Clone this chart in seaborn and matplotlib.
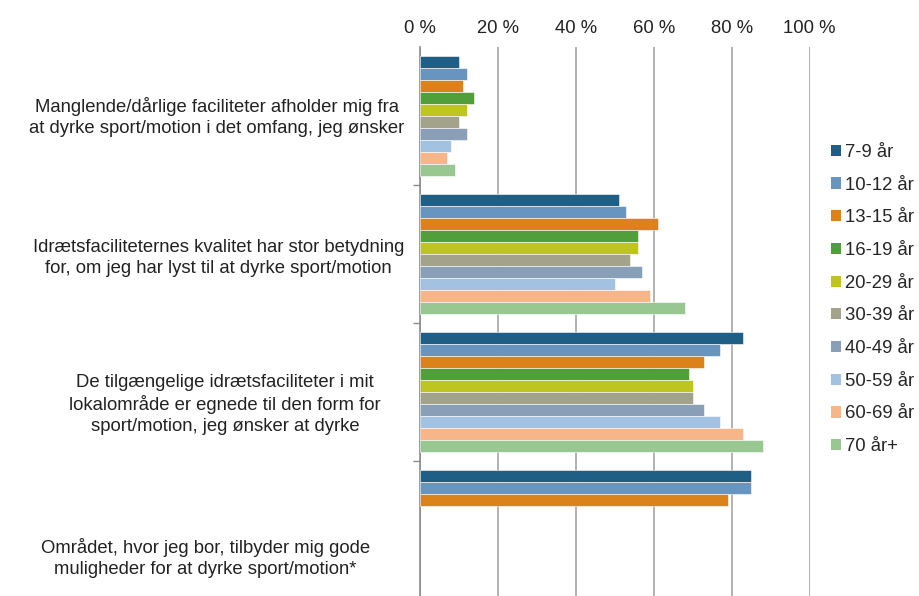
import pandas as pd
import matplotlib
matplotlib.use("Agg")
import matplotlib.pyplot as plt
import matplotlib.transforms as mtransforms
from matplotlib.ticker import FuncFormatter, FixedLocator
import seaborn as sns
import numpy as np

# Data (aflæst fra figuren, i procent)
kategorier = [
    "Manglende/dårlige faciliteter afholder mig fra\nat dyrke sport/motion i det omfang, jeg ønsker",
    "Idrætsfaciliteternes kvalitet har stor betydning\nfor, om jeg har lyst til at dyrke sport/motion",
    "De tilgængelige idrætsfaciliteter i mit\nlokalområde er egnede til den form for\nsport/motion, jeg ønsker at dyrke",
    "Området, hvor jeg bor, tilbyder mig gode\nmuligheder for at dyrke sport/motion*",
]
aldersgrupper = ["7-9 år", "10-12 år", "13-15 år", "16-19 år", "20-29 år",
                 "30-39 år", "40-49 år", "50-59 år", "60-69 år", "70 år+"]

faciliteter_afholder = [10, 12, 11, 14, 12, 10, 12, 8, 7, 9]
kvalitet_betydning = [51, 53, 61, 56, 56, 54, 57, 50, 59, 68]
egnede_faciliteter = [83, 77, 73, 69, 70, 70, 73, 77, 83, 88]
gode_muligheder = [85, 85, 79, np.nan, np.nan, np.nan, np.nan, np.nan, np.nan, np.nan]

farver = ["#1F5F85", "#6795BF", "#DC821B", "#519E3A", "#BFC520",
          "#A3A38B", "#889FB7", "#A3C1E0", "#F7B68A", "#99C791"]

# Lang tabel til seaborn
serier = [faciliteter_afholder, kvalitet_betydning, egnede_faciliteter, gode_muligheder]
rows = []
for kat, vals in zip(kategorier, serier):
    for alder, v in zip(aldersgrupper, vals):
        rows.append({"kategori": kat, "alder": alder, "andel": v})
df = pd.DataFrame(rows).dropna()

FS = 13.3

sns.set_style("white")
plt.rcParams["font.family"] = ["Liberation Sans", "DejaVu Sans"]
plt.rcParams["font.size"] = FS

fig = plt.figure(figsize=(9.19, 5.96), dpi=100)
ax = fig.add_axes([0.4567, -0.005, 0.4244, 0.926])

sns.barplot(data=df, y="kategori", x="andel", hue="alder",
            order=kategorier, hue_order=aldersgrupper, palette=farver,
            saturation=1, orient="h", width=0.87, errorbar=None, ax=ax,
            edgecolor="white", linewidth=0.4, zorder=3)

ax.set_xlim(0, 100)
ax.set_xticks([0, 20, 40, 60, 80, 100])
ax.xaxis.set_major_formatter(FuncFormatter(lambda v, p: f"{v:.0f} %"))
ax.xaxis.tick_top()
ax.tick_params(axis="x", length=0, pad=7, labelsize=FS, colors="#222222")
ax.grid(axis="x", color="#a6a6a6", linewidth=1.2, zorder=0)
ax.set_axisbelow(True)
ax.set_xlabel("")
ax.set_ylabel("")

for side in ["top", "right", "bottom"]:
    ax.spines[side].set_visible(False)
ax.spines["left"].set_color("#8c8c8c")
ax.spines["left"].set_linewidth(1.2)

# Små streger mellem kategorierne
ax.yaxis.set_minor_locator(FixedLocator([0.5, 1.5, 2.5]))
ax.tick_params(axis="y", which="minor", length=5, color="#8c8c8c", width=1, left=True)
ax.tick_params(axis="y", which="major", length=0, pad=11, labelsize=FS, colors="#222222")
for lbl in ax.get_yticklabels():
    lbl.set_multialignment("center")
    lbl.set_linespacing(1.3)

# Justering af enkelte kategoritekster (som i originalen)
forskyd = [(0, 2), (0, 0), (-17, -6), (-25, -17)]
for lbl, (dx, dy) in zip(ax.get_yticklabels(), forskyd):
    lbl.set_transform(lbl.get_transform() +
                      mtransforms.ScaledTranslation(dx / 72, dy / 72, fig.dpi_scale_trans))

leg = ax.legend(loc="upper left", bbox_to_anchor=(1.036, 0.838), frameon=False,
                fontsize=FS, handlelength=0.55, handleheight=0.55, handletextpad=0.22,
                labelspacing=0.85, borderaxespad=0)
for h in leg.legend_handles:
    h.set_edgecolor("none")

fig.savefig("out.png", dpi=100)
